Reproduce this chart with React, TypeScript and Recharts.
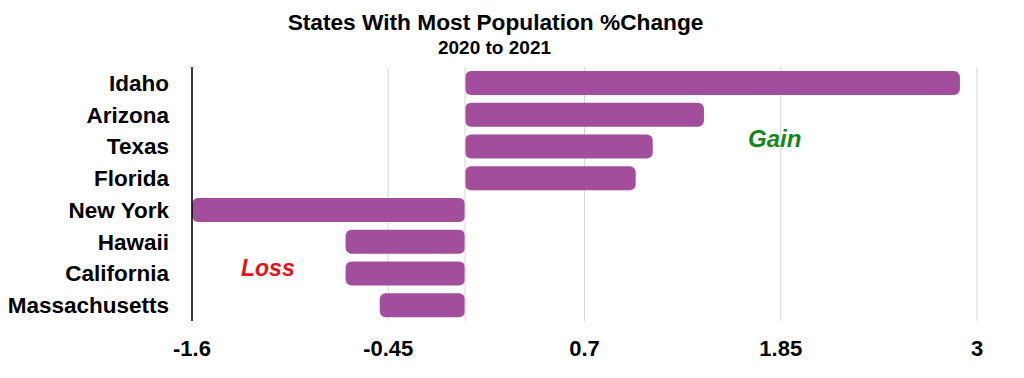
import React from "react";
import { BarChart, Bar, XAxis, YAxis, CartesianGrid, ReferenceLine } from "recharts";

const states = ["Idaho", "Arizona", "Texas", "Florida", "New York", "Hawaii", "California", "Massachusetts"];
const changes = [2.9, 1.4, 1.1, 1.0, -1.6, -0.7, -0.7, -0.5];
const xTicks = [-1.6, -0.45, 0.7, 1.85, 3];

const data = states.map((name, i) => ({ name, value: changes[i] }));

const FONT = "'Liberation Sans', Arial, Helvetica, sans-serif";

export default function App() {
  return (
    <div style={{ position: "absolute", left: 0, top: 0, width: 1024, height: 378, background: "#fff", fontFamily: FONT }}>
      <div style={{ position: "absolute", left: 0, width: 991, top: 9, textAlign: "center", fontWeight: 700, fontSize: 22.7, color: "#000", whiteSpace: "nowrap" }}>
        States With Most Population %Change
      </div>
      <div style={{ position: "absolute", left: 0, width: 989, top: 37, textAlign: "center", fontWeight: 700, fontSize: 19, color: "#000", whiteSpace: "nowrap" }}>
        2020 to 2021
      </div>
      <BarChart
        width={1024}
        height={378}
        data={data}
        layout="vertical"
        margin={{ top: 67, right: 47, bottom: 0, left: 0 }}
        barSize={24}
      >
        <CartesianGrid horizontal={false} stroke="#d6d6d6" />
        <ReferenceLine x={0} stroke="#d6d6d6" />
        <XAxis
          type="number"
          domain={[-1.6, 3]}
          ticks={xTicks}
          axisLine={false}
          tickLine={false}
          height={57}
          tickMargin={13}
          tick={{ fill: "#000", fontSize: 22, fontWeight: 700, fontFamily: FONT }}
          interval={0}
        />
        <YAxis
          type="category"
          dataKey="name"
          width={192}
          axisLine={{ stroke: "#000", strokeWidth: 1.5 }}
          tickLine={false}
          tickMargin={17}
          tick={{ fill: "#000", fontSize: 22.5, fontWeight: 700, fontFamily: FONT }}
          interval={0}
        />
        <Bar dataKey="value" fill="#A34E9C" radius={[6, 6, 6, 6]} isAnimationActive={false} />
      </BarChart>
      <div style={{ position: "absolute", left: 748, top: 125, fontWeight: 700, fontStyle: "italic", fontSize: 24, color: "#15861a" }}>
        Gain
      </div>
      <div style={{ position: "absolute", left: 241, top: 255, fontWeight: 700, fontStyle: "italic", fontSize: 23, color: "#e3141b" }}>
        Loss
      </div>
    </div>
  );
}
